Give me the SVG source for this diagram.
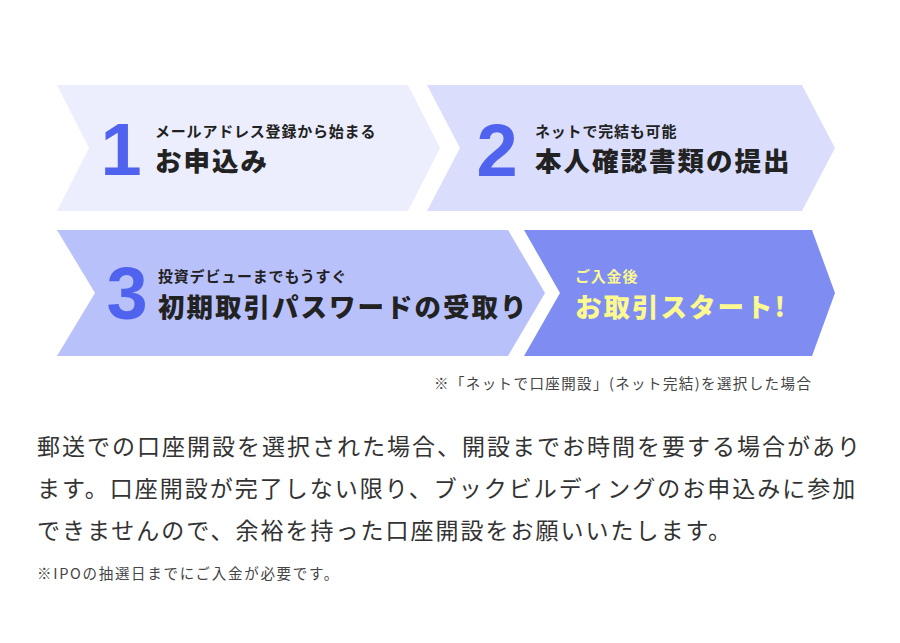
<svg xmlns="http://www.w3.org/2000/svg" width="900" height="643" viewBox="0 0 900 643">
<style>
  .num { font-family: "Liberation Sans", Arial, sans-serif; font-weight: 700; font-size: 74px; fill: #4f63ef; text-anchor: middle; }
  .sub { font-family: "Noto Sans CJK JP", "Noto Sans", sans-serif; font-weight: 700; font-size: 15px; letter-spacing: 0.8px; fill: #222; }
  .main { font-family: "Noto Sans CJK JP", "Noto Sans", sans-serif; font-weight: 900; font-size: 26.5px; letter-spacing: 2px; fill: #222; }
  .yel { fill: #fbf98f; }
  .body { font-family: "Noto Sans CJK JP", "Noto Sans", sans-serif; font-weight: 400; font-size: 23px; letter-spacing: 2px; fill: #333; }
  .note { font-family: "Noto Sans CJK JP", "Noto Sans", sans-serif; font-weight: 400; font-size: 14.5px; fill: #444; }
</style>
<rect width="900" height="643" fill="#ffffff"/>
<g id="step1">
  <path d="M57,85 L408,85 L440,148 L408,211 L57,211 L89,148 Z" fill="#eceefd"/>
  <text class="num" x="121" y="175">1</text>
  <text class="sub" x="155" y="137">メールアドレス登録から始まる</text>
  <text class="main" x="155" y="171">お申込み</text>
</g>
<g id="step2">
  <path d="M427,85 L802,85 L835,148 L802,211 L427,211 L460,148 Z" fill="#dadefc"/>
  <text class="num" x="497" y="176">2</text>
  <text class="sub" x="535" y="137">ネットで完結も可能</text>
  <text class="main" x="535" y="171">本人確認書類の提出</text>
</g>
<g id="step3">
  <path d="M57,230 L508,230 L545,293 L508,356 L57,356 L95,293 Z" fill="#b9c1fb"/>
  <text class="num" x="127" y="319">3</text>
  <text class="sub" x="158" y="282">投資デビューまでもうすぐ</text>
  <text class="main" x="158" y="317">初期取引パスワードの受取り</text>
</g>
<g id="step4">
  <path d="M524,230 L812,230 L835,293 L812,356 L524,356 L560,293 Z" fill="#7f8df3"/>
  <text class="sub yel" x="575" y="282">ご入金後</text>
  <text class="main yel" x="575" y="317" letter-spacing="4">お取引スタート!</text>
</g>
<g id="connectors"/>
<g id="notes">
  <text class="note" x="434" y="389" letter-spacing="1.4">※「ネットで口座開設」(ネット完結)を選択した場合</text>
  <text class="body" x="37" y="455">郵送での口座開設を選択された場合、開設までお時間を要する場合があり</text>
  <text class="body" x="37" y="497">ます。口座開設が完了しない限り、ブックビルディングのお申込みに参加</text>
  <text class="body" x="37" y="539">できませんので、余裕を持った口座開設をお願いいたします。</text>
  <text class="note" x="37" y="579" font-size="15" letter-spacing="1.7">※IPOの抽選日までにご入金が必要です。</text>
</g>
</svg>
